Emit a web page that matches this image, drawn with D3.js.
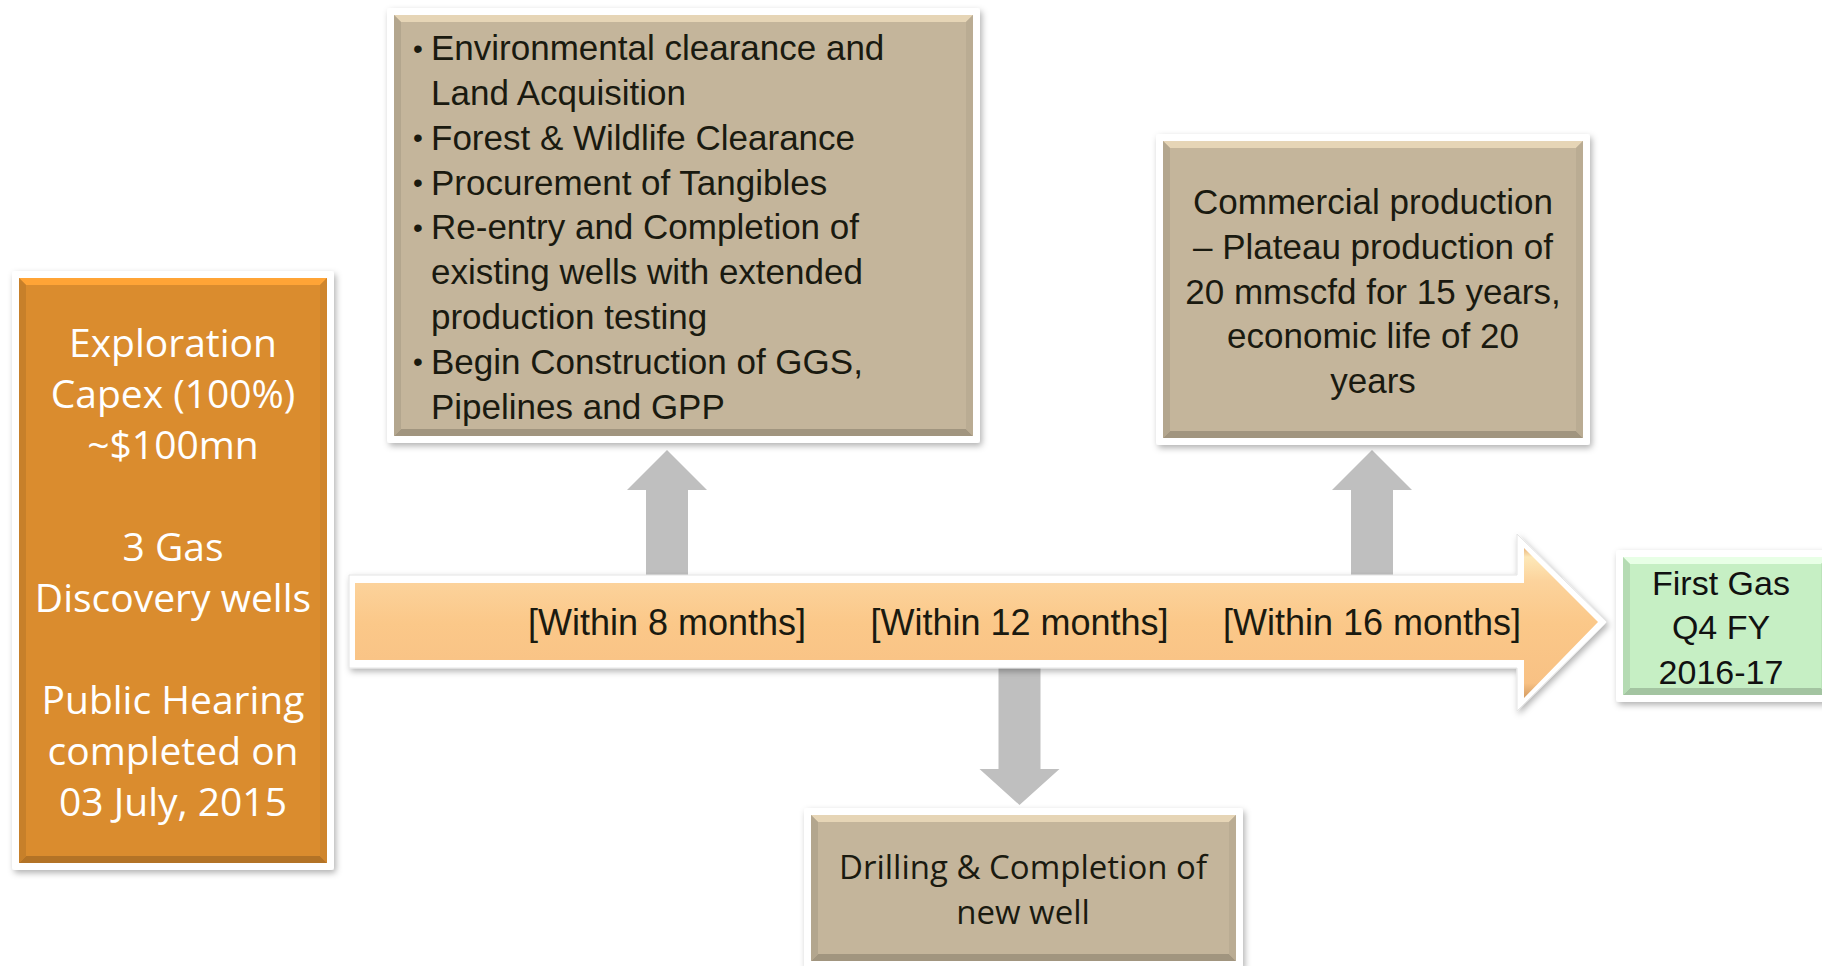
<!doctype html>
<html>
  <head>
    <script src="https://cdn.jsdelivr.net/npm/d3@7/dist/d3.min.js"></script>
    <style>
      body { margin:0; background:#fff; }
      text { font-family:"Liberation Sans", Arial, sans-serif; }
    </style>
  </head>
  <body>
    <div id="my_dataviz"></div>
    <script>
      // milestones along the timeline arrow
      var stageMonths = [8, 12, 16];
      var stageLabels = ["[Within 8 months]", "[Within 12 months]", "[Within 16 months]"];
      var stageDirection = ["up", "down", "up"];

      // text of the boxes
      var startLines = ["Exploration", "Capex (100%)", "~$100mn", "", "3 Gas", "Discovery wells", "", "Public Hearing", "completed on", "03 July, 2015"];
      var month8Bullets = [
        ["Environmental clearance and", "Land Acquisition"],
        ["Forest & Wildlife Clearance"],
        ["Procurement of Tangibles"],
        ["Re-entry and Completion of", "existing wells with extended", "production testing"],
        ["Begin Construction of GGS,", "Pipelines and GPP"]
      ];
      var month12Lines = ["Drilling & Completion of", "new well"];
      var month16Lines = ["Commercial production", "\u2013 Plateau production of", "20 mmscfd for 15 years,", "economic life of 20", "years"];
      var endLines = ["First Gas", "Q4 FY", "2016-17"];

      var width = 1822, height = 966;

      var svg = d3.select("#my_dataviz")
        .append("svg")
          .attr("width", width)
          .attr("height", height);

      var defs = svg.append("defs");
      var shadow = defs.append("filter").attr("id", "shadow")
        .attr("x", "-10%").attr("y", "-10%").attr("width", "125%").attr("height", "125%");
      shadow.append("feDropShadow")
        .attr("dx", 2).attr("dy", 3).attr("stdDeviation", 3)
        .attr("flood-color", "#000").attr("flood-opacity", 0.3);

      var arrowGrad = defs.append("linearGradient").attr("id", "arrowGrad")
        .attr("x1", 0).attr("y1", 0).attr("x2", 0).attr("y2", 1);
      arrowGrad.selectAll("stop")
        .data([[0, "#e9b47a"], [0.06, "#fde8b8"], [0.22, "#fcd39c"], [0.5, "#fbc889"], [0.9, "#f8c184"], [1, "#d49c62"]])
        .enter().append("stop")
          .attr("offset", function(d) { return d[0]; })
          .attr("stop-color", function(d) { return d[1]; });

      // x position of the milestones
      var x = d3.scaleLinear()
        .domain([8, 16])
        .range([667, 1372]);

      var axisY = 622;

      // box with white frame, shadow and a bevelled edge
      function bevelBox(x0, y0, w, h, fill) {
        var g = svg.append("g");
        g.append("rect")
          .attr("x", x0 - 7).attr("y", y0 - 7)
          .attr("width", w + 14).attr("height", h + 14)
          .attr("rx", 3)
          .attr("fill", "#fff")
          .attr("filter", "url(#shadow)");
        g.append("rect")
          .attr("x", x0).attr("y", y0)
          .attr("width", w).attr("height", h)
          .attr("fill", fill);
        var b = 7, c = d3.color(fill);
        var sides = [
          [[x0, y0], [x0 + w, y0], [x0 + w - b, y0 + b], [x0 + b, y0 + b], c.brighter(0.45)],
          [[x0, y0 + h], [x0 + w, y0 + h], [x0 + w - b, y0 + h - b], [x0 + b, y0 + h - b], c.darker(0.55)],
          [[x0, y0], [x0 + b, y0 + b], [x0 + b, y0 + h - b], [x0, y0 + h], c.darker(0.25)],
          [[x0 + w, y0], [x0 + w - b, y0 + b], [x0 + w - b, y0 + h - b], [x0 + w, y0 + h], c.darker(0.15)]
        ];
        g.selectAll("polygon")
          .data(sides)
          .enter().append("polygon")
            .attr("points", function(d) { return d.slice(0, 4).map(function(p) { return p.join(","); }).join(" "); })
            .attr("fill", function(d) { return d[4]; });
        return g;
      }

      function centerText(lines, cx, y0, step, size, color, family, weight) {
        svg.append("g")
          .selectAll("text")
          .data(lines)
          .enter().append("text")
            .attr("x", cx)
            .attr("y", function(d, i) { return y0 + i * step; })
            .attr("dy", "0.35em")
            .attr("text-anchor", "middle")
            .style("font-size", size + "px")
            .style("font-family", family)
            .style("font-weight", weight || 400)
            .style("fill", color)
            .text(function(d) { return d; });
      }

      // gray callout arrows (drawn first, behind the timeline)
      svg.selectAll("myCallouts")
        .data(stageMonths)
        .enter().append("path")
          .attr("d", function(d, i) {
            var cx = x(d), sw = 21, hw = 40, y0, yb, yt;
            if (stageDirection[i] == "up") { y0 = 580; yb = 490; yt = 450; }
            else { y0 = 664; yb = 769; yt = 805; }
            return "M" + (cx - sw) + "," + y0 + "L" + (cx - sw) + "," + yb + "L" + (cx - hw) + "," + yb +
              "L" + cx + "," + yt + "L" + (cx + hw) + "," + yb + "L" + (cx + sw) + "," + yb +
              "L" + (cx + sw) + "," + y0 + "Z";
          })
          .attr("fill", "#bfbfbf");

      // big timeline arrow
      var outer = [[349, 575], [1517, 575], [1517, 534], [1607, axisY], [1517, 711], [1517, 668], [349, 668]];
      var inner = [[355, 583], [1524, 583], [1524, 548], [1598, axisY], [1524, 698], [1524, 660], [355, 660]];
      svg.append("polygon")
        .attr("points", outer.map(function(p) { return p.join(","); }).join(" "))
        .attr("fill", "#fff")
        .attr("stroke", "#e4e4e4")
        .attr("filter", "url(#shadow)");
      svg.append("polygon")
        .attr("points", inner.map(function(p) { return p.join(","); }).join(" "))
        .attr("fill", "url(#arrowGrad)");

      svg.selectAll("myStageLabels")
        .data(stageLabels)
        .enter().append("text")
          .attr("x", function(d, i) { return x(stageMonths[i]); })
          .attr("y", axisY)
          .attr("dy", "0.35em")
          .attr("text-anchor", "middle")
          .style("font-size", "36px")
          .style("fill", "#1a1a10")
          .text(function(d) { return d; });

      // left box
      bevelBox(19, 278, 308, 585, "#da8c2e");
      centerText(startLines, 173, 343, 51, 39, "#fff", "'Open Sans', sans-serif", 500);

      // month 8 box with bullets
      bevelBox(394, 15, 579, 421, "#c4b59b");
      var row = 0;
      month8Bullets.forEach(function(item) {
        item.forEach(function(line, j) {
          var yy = 48 + row * 44.8;
          if (j == 0) {
            svg.append("text").attr("x", 413).attr("y", yy).attr("dy", "0.35em")
              .style("font-size", "28px").style("fill", "#1a1a10").text("\u2022");
          }
          svg.append("text").attr("x", 431).attr("y", yy).attr("dy", "0.35em")
            .style("font-size", "35px").style("fill", "#1a1a10").text(line);
          row++;
        });
      });

      // month 16 box
      bevelBox(1163, 141, 420, 297, "#c4b59b");
      centerText(month16Lines, 1373, 202, 44.7, 35, "#1a1a10", "'Liberation Sans', sans-serif");

      // month 12 box
      bevelBox(811, 815, 425, 146, "#c4b59b");
      centerText(month12Lines, 1023, 867, 45, 33, "#1a1a10", "'Open Sans', sans-serif");

      // end box
      bevelBox(1623, 557, 205, 138, "#c6efc4");
      centerText(endLines, 1721, 583, 44.5, 34, "#111", "'Liberation Sans', sans-serif");
    </script>
  </body>
</html>
